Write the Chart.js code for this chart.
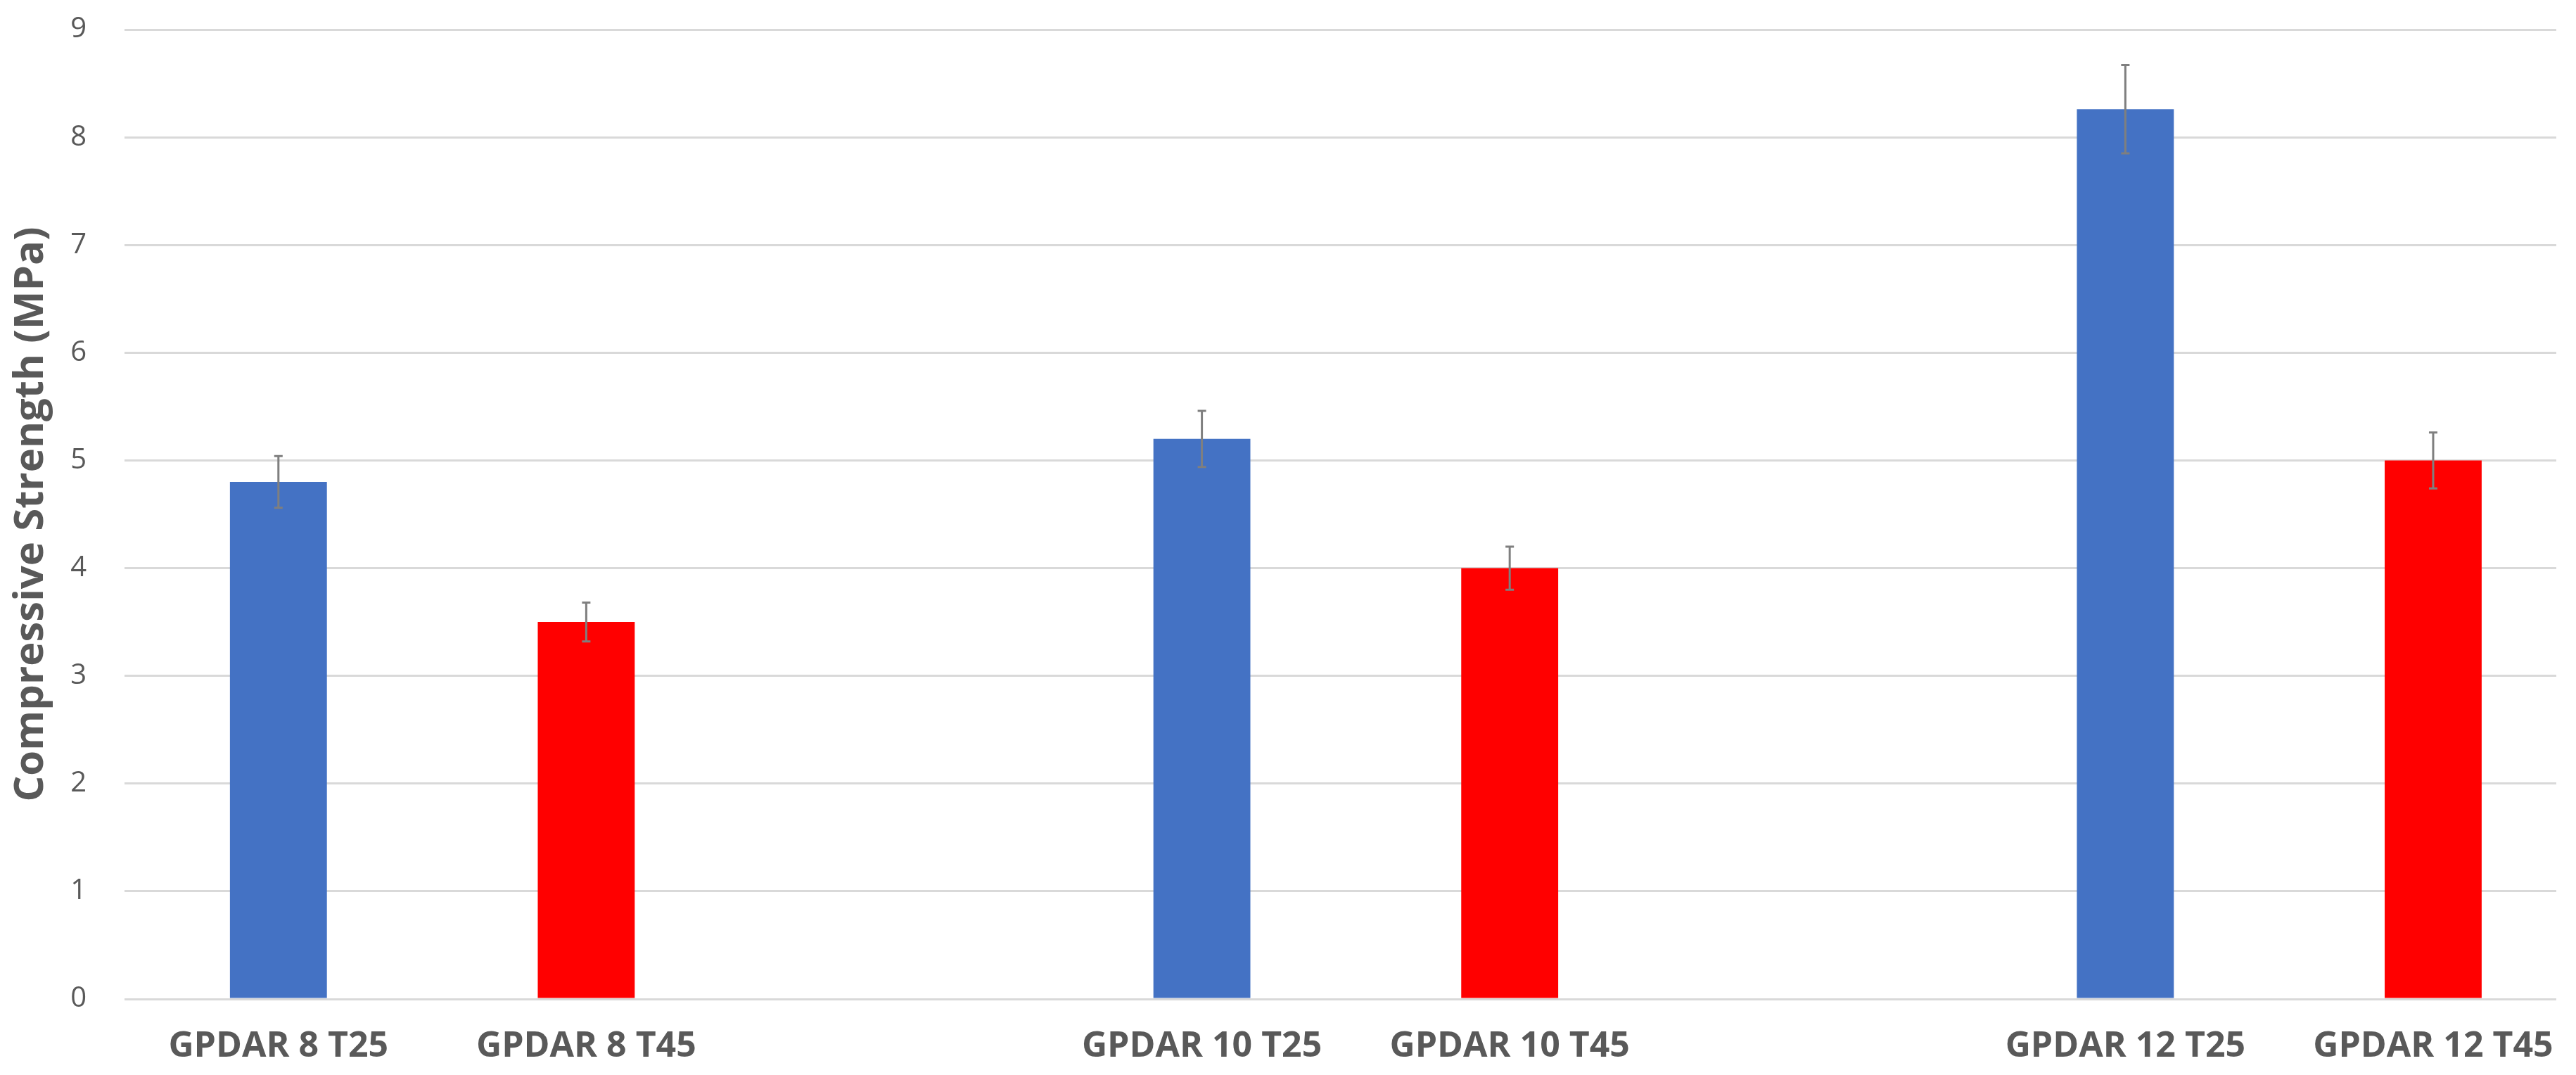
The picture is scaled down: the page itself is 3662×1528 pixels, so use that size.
<!DOCTYPE html>
<html>
<head>
<meta charset="utf-8">
<script src="https://cdn.jsdelivr.net/npm/chart.js@4"></script>
<style>
  html, body { margin: 0; padding: 0; background: #fff; overflow: hidden; }
  canvas { display: block; }
</style>
</head>
<body>
<canvas id="chart" width="3662" height="1528"></canvas>
<script>
// Category slots along the x axis (two empty slots separate the groups).
const categories = ['GPDAR 8 T25', 'GPDAR 8 T45', '', 'GPDAR 10 T25', 'GPDAR 10 T45', '', 'GPDAR 12 T25', 'GPDAR 12 T45'];

// T25 series.
const t25Labels = ['GPDAR 8 T25', 'GPDAR 10 T25', 'GPDAR 12 T25'];
const t25Values = [4.8, 5.2, 8.26];
const t25Errors = [0.24, 0.26, 0.41];

// T45 series.
const t45Labels = ['GPDAR 8 T45', 'GPDAR 10 T45', 'GPDAR 12 T45'];
const t45Values = [3.5, 4.0, 5.0];
const t45Errors = [0.18, 0.2, 0.26];

const yTicks = [0, 1, 2, 3, 4, 5, 6, 7, 8, 9];

const toPoints = (labels, values) => labels.map((l, i) => ({ x: categories.indexOf(l), y: values[i] }));

// Draw error bars using the chart's own scales.
const errorBars = {
    id: 'errorBars',
    afterDatasetsDraw(chart) {
        const ctx = chart.ctx;
        const yScale = chart.scales.y;
        ctx.save();
        ctx.strokeStyle = '#7f7f7f';
        ctx.lineWidth = 3;
        chart.data.datasets.forEach((ds, di) => {
            const meta = chart.getDatasetMeta(di);
            meta.data.forEach((bar, i) => {
                const v = ds.data[i].y;
                const e = ds.errors[i];
                const top = yScale.getPixelForValue(v + e);
                const bottom = yScale.getPixelForValue(v - e);
                ctx.beginPath();
                ctx.moveTo(bar.x, top);
                ctx.lineTo(bar.x, bottom);
                ctx.moveTo(bar.x - 6, top);
                ctx.lineTo(bar.x + 6, top);
                ctx.moveTo(bar.x - 6, bottom);
                ctx.lineTo(bar.x + 6, bottom);
                ctx.stroke();
            });
        });
        ctx.restore();
    }
};

new Chart(document.getElementById('chart'), {
    type: 'bar',
    data: {
        datasets: [
            {
                label: 'T25',
                data: toPoints(t25Labels, t25Values),
                errors: t25Errors,
                backgroundColor: '#4472C4',
            },
            {
                label: 'T45',
                data: toPoints(t45Labels, t45Values),
                errors: t45Errors,
                backgroundColor: '#FF0000',
            },
        ],
    },
    options: {
        responsive: false,
        animation: false,
        layout: { padding: { left: 0, right: 28, top: 42, bottom: 0 } },
        datasets: {
            bar: { grouped: false, barPercentage: 0.315, categoryPercentage: 1 }
        },
        plugins: {
            legend: { display: false },
            tooltip: { enabled: false },
        },
        scales: {
            x: {
                type: 'linear',
                offset: false,
                min: -0.5,
                max: 7.4,
                grid: { display: false, drawTicks: false, offset: false },
                border: { display: false },
                ticks: {
                    stepSize: 1,
                    includeBounds: false,
                    autoSkip: false,
                    maxRotation: 0,
                    padding: 38,
                    color: '#595959',
                    font: { family: 'Open Sans', size: 50, weight: 'bold' },
                    callback: (v) => categories[v] ?? '',
                },
                afterFit: (scale) => {
                    scale.height = 108;
                    scale.paddingLeft = 0;
                    scale.paddingRight = 0;
                },
            },
            y: {
                min: 0,
                max: 9,
                afterBuildTicks: (scale) => { scale.ticks = yTicks.map(v => ({ value: v })); },
                grid: { color: '#d9d9d9', lineWidth: 3, drawTicks: false },
                border: { display: false },
                ticks: {
                    padding: 54,
                    color: '#595959',
                    font: { family: 'Open Sans', size: 40 },
                },
                title: {
                    display: true,
                    text: 'Compressive Strength (MPa)',
                    color: '#595959',
                    font: { family: 'Open Sans', size: 58, weight: 'bold' },
                    padding: { top: 10, bottom: 0 },
                },
                afterFit: (scale) => {
                    scale.width = 177;
                    scale.paddingTop = 0;
                    scale.paddingBottom = 0;
                },
            },
        },
    },
    plugins: [errorBars],
});
</script>
</body>
</html>
